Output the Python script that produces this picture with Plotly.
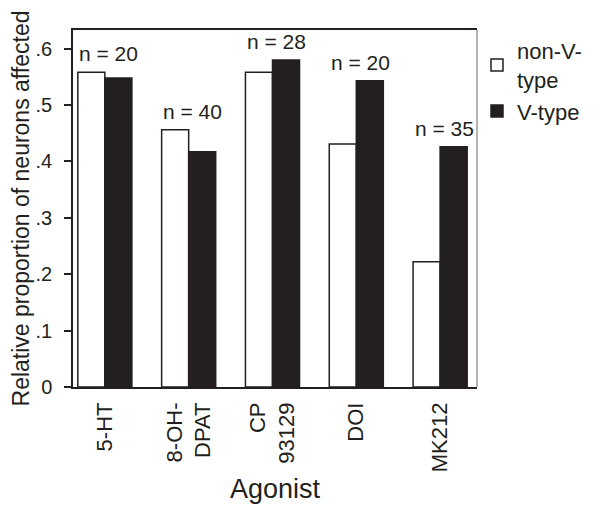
import plotly.graph_objects as go

categories = ["5-HT", "8-OH-<br>DPAT", "CP<br>93129", "DOI", "MK212"]
non_v_type = [0.558, 0.456, 0.558, 0.431, 0.222]
v_type = [0.548, 0.417, 0.580, 0.543, 0.426]
n_labels = ["n = 20", "n = 40", "n = 28", "n = 20", "n = 35"]
y_tick_vals = [0, 0.1, 0.2, 0.3, 0.4, 0.5, 0.6]
y_tick_text = ["0", ".1", ".2", ".3", ".4", ".5", ".6"]

ink = "#231f20"
font_family = "Liberation Sans, Arial, sans-serif"

fig = go.Figure()
fig.add_trace(go.Bar(x=categories, y=non_v_type, name="non-V-<br>type",
                     marker=dict(color="white", line=dict(color=ink, width=1.5))))
fig.add_trace(go.Bar(x=categories, y=v_type, name="V-type",
                     marker=dict(color=ink, line=dict(color=ink, width=1.5))))

for cat, a, b, lab in zip(categories, non_v_type, v_type, n_labels):
    fig.add_annotation(x=cat, y=max(a, b), text=lab, showarrow=False,
                       yanchor="bottom", yshift=5, xshift=4,
                       font=dict(size=21, color=ink, family=font_family))

# lighter right frame edge, as in the original
fig.add_shape(type="line", xref="paper", yref="paper", x0=1, x1=1, y0=0, y1=1,
              line=dict(color="#9a9a9a", width=1.5))

# page body has an 8px margin, so the figure is sized to fit the window
fig.update_layout(
    width=592, height=505,
    margin=dict(l=65, r=123, t=22, b=126),
    paper_bgcolor="white", plot_bgcolor="white",
    barmode="group", bargap=0.355, bargroupgap=0,
    font=dict(family=font_family, color=ink, size=20),
    showlegend=True,
    legend=dict(x=1.0, y=1.0, xanchor="left", yanchor="top",
                font=dict(size=22, color=ink),
                bgcolor="rgba(0,0,0,0)"),
    xaxis=dict(showline=True, linecolor=ink, linewidth=1.5, mirror=True,
               ticks="", tickangle=-90, tickfont=dict(size=22),
               ticklabelstandoff=5,
               range=[-0.38, 4.44], automargin=False,
               title=dict(text="Agonist", font=dict(size=27), standoff=8)),
    yaxis=dict(showline=True, linecolor=ink, linewidth=1.5, mirror=False,
               ticks="outside", ticklen=7, tickwidth=1.5, tickcolor=ink,
               ticklabelstandoff=8,
               range=[0, 0.633], tickvals=y_tick_vals, ticktext=y_tick_text,
               showgrid=False, zeroline=False, tickfont=dict(size=20),
               automargin=False,
               title=dict(text="Relative proportion of neurons affected",
                          font=dict(size=23), standoff=4)),
)

fig.write_html("out.html")
